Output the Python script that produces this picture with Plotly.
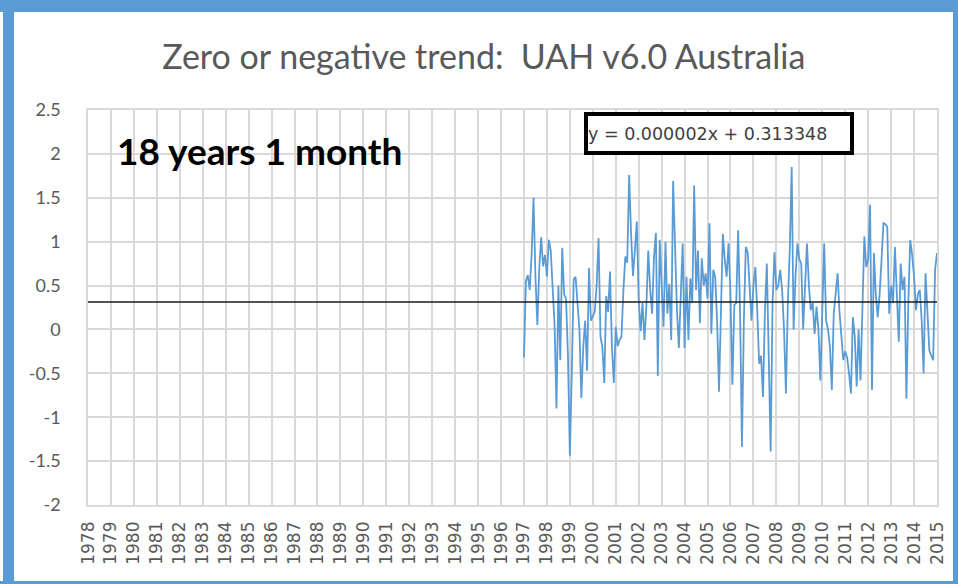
import plotly.graph_objects as go

# ---------------- data ----------------
start_year = 1997
anomaly_1997 = [-0.32, 0.55, 0.62, 0.45, 0.85, 1.5, 0.6, 0.05, 0.7, 1.05, 0.72, 0.85]
anomaly_1998 = [0.6, 1.02, 0.9, 0.5, 0.05, -0.9, 0.5, -0.35, 0.93, 0.4, 0.35, -0.3]
anomaly_1999 = [-1.44, -0.5, 0.57, 0.6, 0.3, 0.0, -0.78, -0.2, 0.1, -0.47, 0.7, 0.1]
anomaly_2000 = [0.15, 0.2, 0.5, 1.04, -0.08, -0.2, -0.61, 0.38, 0.2, 0.66, -0.2, -0.61]
anomaly_2001 = [0.03, -0.19, -0.12, -0.08, 0.45, 0.83, 0.76, 1.76, 1.1, 0.61, 0.9, 1.23]
anomaly_2002 = [0.34, -0.02, 0.3, -0.12, 0.26, 0.9, 0.45, 0.18, 0.83, 1.1, -0.53, 1.02]
anomaly_2003 = [0.5, 0.03, 1.0, 0.18, 0.52, -0.12, 1.69, 0.8, 0.22, -0.21, 0.5, 0.98]
anomaly_2004 = [-0.21, 0.6, -0.12, 0.58, 0.3, 1.64, 0.45, 0.9, 0.07, 0.81, 0.5, 0.64]
anomaly_2005 = [0.35, 1.21, -0.05, 0.68, 0.6, 0.1, -0.71, 0.26, 1.09, 0.8, 0.6, 0.98]
anomaly_2006 = [0.4, -0.63, 0.28, 0.3, 1.13, 0.2, -1.34, 0.1, 0.94, 0.88, 0.5, 0.1]
anomaly_2007 = [0.5, 0.71, 0.2, -0.39, -0.3, -0.77, 0.2, 0.75, -0.3, -1.39, 0.3, 0.88]
anomaly_2008 = [0.45, 0.5, 0.68, 0.45, 0.0, -0.73, 0.3, 0.9, 1.85, 0.0, 0.6, 0.98]
anomaly_2009 = [0.8, 0.75, 0.0, 0.5, 0.98, 0.5, 0.22, 0.3, -0.05, 0.26, 0.0, -0.58]
anomaly_2010 = [0.2, 0.98, 0.1, 0.0, -0.2, -0.69, 0.18, 0.4, 0.64, 0.2, -0.1, -0.35]
anomaly_2011 = [-0.25, -0.32, -0.5, -0.73, 0.14, -0.08, -0.65, 0.0, -0.58, 0.2, 1.06, 0.71]
anomaly_2012 = [0.8, 1.42, -0.69, 0.87, 0.4, 0.14, 0.4, 0.8, 1.21, 1.2, 1.17, 0.18]
anomaly_2013 = [0.5, 0.3, 0.94, 0.4, -0.14, 0.75, 0.45, 0.6, -0.79, 0.3, 1.02, 0.85]
anomaly_2014 = [0.6, 0.22, 0.4, 0.45, 0.1, -0.5, 0.64, 0.2, -0.24, -0.3, -0.35, 0.68]
anomaly_2015 = [0.87]

trend_slope = 0.000002
trend_intercept = 0.313348

year_ticks = list(range(1978, 2016))
year_labels = [str(y) for y in year_ticks]
y_ticks = [2.5, 2, 1.5, 1, 0.5, 0, -0.5, -1, -1.5, -2]
y_labels = ["2.5", "2", "1.5", "1", "0.5", "0", "-0.5", "-1", "-1.5", "-2"]

title_text = "Zero or negative trend:  UAH v6.0 Australia"
period_text = "18 years 1 month"
equation_text = "y = 0.000002x + 0.313348"

# ---------------- build ----------------
values = (anomaly_1997 + anomaly_1998 + anomaly_1999 + anomaly_2000 + anomaly_2001 +
          anomaly_2002 + anomaly_2003 + anomaly_2004 + anomaly_2005 + anomaly_2006 +
          anomaly_2007 + anomaly_2008 + anomaly_2009 + anomaly_2010 + anomaly_2011 +
          anomaly_2012 + anomaly_2013 + anomaly_2014 + anomaly_2015)
xs = [start_year + i / 12 for i in range(len(values))]

trend_x = [year_ticks[0], year_ticks[-1]]
trend_y = [trend_intercept + trend_slope * i for i in (0, len(values) - 1)]

W, H = 958, 584
L, R, T, B = 88, 21, 110, 79
pw, ph = W - L - R, H - T - B


def px(x):
    return (x - L) / pw


def py(y):
    return (H - B - y) / ph


fig = go.Figure()
fig.add_trace(go.Scatter(x=xs, y=values, mode="lines",
                         line=dict(color="#5b9bd5", width=1.8), showlegend=False))
fig.add_trace(go.Scatter(x=trend_x, y=trend_y, mode="lines",
                         line=dict(color="#1a1a1a", width=1.5), showlegend=False))

grid = "#d9d9d9"
fig.update_layout(
    width=W, height=H,
    margin=dict(l=L, r=R, t=T, b=B),
    paper_bgcolor="white", plot_bgcolor="white",
    title=dict(text=title_text, x=0.505, xanchor="center", y=1 - 57 / H, yanchor="middle",
               font=dict(family="Lato", size=34, color="#595959")),
    xaxis=dict(range=[1978, 2015], tickvals=year_ticks, ticktext=year_labels,
               tickangle=-90, showgrid=True, gridcolor=grid, gridwidth=1.5,
               zeroline=False, showline=True, linecolor=grid, linewidth=1.5, mirror=True,
               ticks="", ticklabelstandoff=8,
               tickfont=dict(family="DejaVu Sans", size=17, color="#595959")),
    yaxis=dict(range=[-2, 2.5], tickvals=y_ticks, ticktext=y_labels,
               showgrid=True, gridcolor=grid, gridwidth=1.5, zeroline=False,
               showline=True, linecolor=grid, linewidth=1.5, mirror=True,
               ticks="", ticklabelstandoff=22,
               tickfont=dict(family="Lato", size=18, color="#595959")),
)

fig.add_annotation(text=period_text, xref="paper", yref="paper",
                   x=px(115), y=py(150), xanchor="left", yanchor="middle", showarrow=False,
                   font=dict(family="Lato", size=37, color="black", weight="bold"))
fig.add_annotation(text=equation_text, xref="paper", yref="paper",
                   x=px(719), y=py(133.5), xanchor="center", yanchor="middle", showarrow=False,
                   width=262, height=35, align="left", bgcolor="white",
                   bordercolor="black", borderwidth=4, borderpad=0,
                   font=dict(family="DejaVu Sans", size=17.5, color="#404040"))

blue = "#5b9bd5"
frame = [(0, 0, W, 12), (3, 0, 14, H), (953, 0, W, H), (0, 581, W, H)]
for x0, y0, x1, y1 in frame:
    fig.add_shape(type="rect", xref="paper", yref="paper",
                  x0=px(x0), x1=px(x1), y0=py(y0), y1=py(y1),
                  fillcolor=blue, line=dict(width=0), layer="above")

fig.write_html("out.html", config={"displayModeBar": False},
               post_script="document.body.style.margin='0';document.body.style.overflow='hidden';")
